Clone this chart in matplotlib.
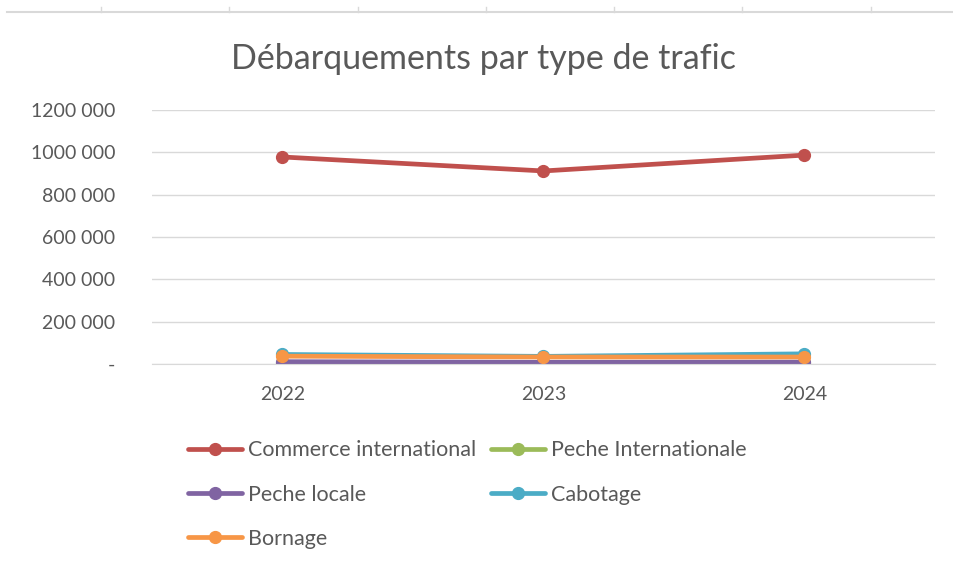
import numpy as np
import matplotlib.pyplot as plt
from matplotlib.lines import Line2D

plt.rcParams['font.family'] = ['Lato', 'DejaVu Sans']

years = ['2022', '2023', '2024']
commerce_intl = [978000, 912000, 987000]
peche_intl = [5000, 4000, 4000]
peche_locale = [11000, 8000, 9000]
cabotage = [45000, 36000, 48000]
bornage = [37000, 33000, 33000]

yticks = [0, 200000, 400000, 600000, 800000, 1000000, 1200000]
ytick_labels = ['-', '200 000', '400 000', '600 000', '800 000', '1000 000', '1200 000']

series = [
    ('Commerce international', commerce_intl, '#C0504D'),
    ('Peche Internationale', peche_intl, '#9BBB59'),
    ('Peche locale', peche_locale, '#8064A2'),
    ('Cabotage', cabotage, '#4BACC6'),
    ('Bornage', bornage, '#F79646'),
]

fig = plt.figure(figsize=(9.54, 5.64), dpi=100)
ax = fig.add_axes([152/954, 1 - 364/564, (935-152)/954, (364-110)/564])

x = np.arange(len(years))
handles = {}
for name, vals, col in series:
    h, = ax.plot(x, vals, color=col, lw=3.4, marker='o', ms=8.5, label=name,
                 solid_capstyle='round')
    handles[name] = h

ax.set_xlim(-0.5, 2.5)
ax.set_ylim(0, 1200000)
ax.set_xticks(x)
ax.set_xticklabels(years)
ax.set_yticks(yticks)
ax.set_yticklabels(ytick_labels)
ax.tick_params(length=0, labelsize=14, labelcolor='#595959')
ax.tick_params(axis='x', pad=16)
ax.tick_params(axis='y', pad=26.5)
for lbl in ax.get_yticklabels():
    lbl.set_horizontalalignment('right')
ax.grid(axis='y', color='#D9D9D9', lw=1)
ax.set_axisbelow(True)
for s in ['top', 'right', 'left']:
    ax.spines[s].set_visible(False)
ax.spines['bottom'].set_color('#D9D9D9')

fig.text(484/954, 1 - 59/564, 'Débarquements par type de trafic', ha='center', va='center',
         fontsize=24.5, color='#595959')

order = ['Commerce international', 'Peche locale', 'Bornage', 'Peche Internationale', 'Cabotage']
leg = fig.legend([handles[n] for n in order], order, ncol=2, loc='upper left',
                 bbox_to_anchor=(169/954, 1 - 421/564), frameon=False, fontsize=15.5,
                 handlelength=2.5, handletextpad=0.28, columnspacing=0.7, labelspacing=1.13)
for t in leg.get_texts():
    t.set_color('#595959')

# cropped spreadsheet header line at the top
fig.add_artist(Line2D([7/954, 1], [1 - 12/564, 1 - 12/564], color='#D9D9D9', lw=1.5))
for xp in 101 + 128.3 * np.arange(7):
    fig.add_artist(Line2D([xp/954, xp/954], [1 - 12/564, 1 - 7/564], color='#D9D9D9', lw=1))

fig.savefig('out.png', dpi=100)
